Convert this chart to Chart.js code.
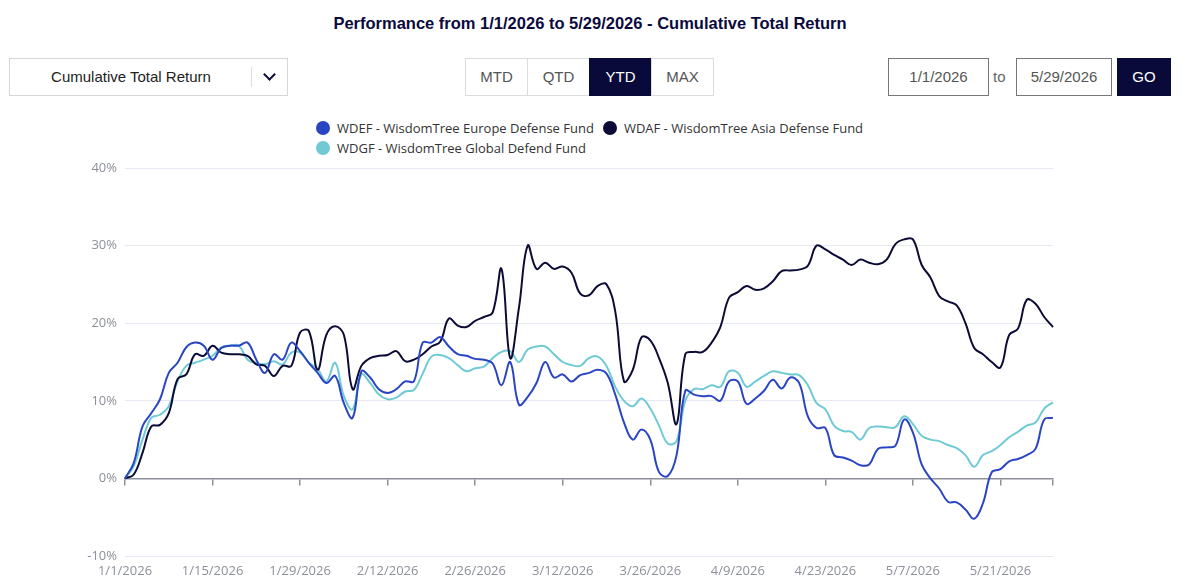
<!DOCTYPE html>
<html>
<head>
<meta charset="utf-8">
<script src="https://cdn.jsdelivr.net/npm/chart.js@4.4.1/dist/chart.umd.min.js"></script>
<style>
  body { margin: 0; background: #fff; font-family: "Liberation Sans", Arial, sans-serif; }
  #wrap { position: relative; width: 1200px; height: 584px; overflow: hidden; }
  .title { position: absolute; top: 14px; left: 0; width: 1180px; text-align: center;
    font-weight: bold; font-size: 16.5px; color: #0b0a3d; }
  .dropdown { position: absolute; left: 9px; top: 58px; width: 277px; height: 36px;
    border: 1px solid #d6d6d6; font-size: 15px; color: #222; }
  .dropdown .txt { position: absolute; left: 0; width: 242px; top: 9px; text-align: center; }
  .dropdown .sep { position: absolute; left: 241px; top: 8px; width: 1px; height: 20px; background: #ddd; }
  .dropdown .chev { position: absolute; left: 255px; top: 11px; width: 7px; height: 7px;
    border-right: 2.5px solid #0b0a3d; border-bottom: 2.5px solid #0b0a3d; transform: rotate(45deg); }
  .btns { position: absolute; left: 466px; top: 58px; display: flex; }
  .btns div { width: 61px; height: 36px; line-height: 36px; text-align: center; font-size: 15px;
    color: #555; border: 1px solid #dcdcdc; margin-left: -1px; }
  .btns div.on { background: #0a0a3a; color: #fff; border-color: #0a0a3a; }
  .date { position: absolute; top: 58px; height: 36px; line-height: 36px; text-align: center;
    font-size: 15px; color: #555; border: 1px solid #777; }
  .to { position: absolute; left: 993px; top: 58px; line-height: 38px; font-size: 15px; color: #666; }
  .go { position: absolute; left: 1117px; top: 58px; width: 54px; height: 38px; line-height: 38px;
    text-align: center; background: #0a0a3a; color: #fff; font-size: 15px; }
  #legend { position: absolute; left: 316px; top: 119px; width: 560px; display: flex; flex-wrap: wrap;
    font-family: "Open Sans", sans-serif; font-size: 13px; color: #333; row-gap: 2px; }
  #legend .item { display: flex; align-items: center; margin-right: 9px; height: 18px; }
  #legend .dot { width: 14px; height: 14px; border-radius: 50%; margin-right: 7px; }
  #chartBox { position: absolute; left: 0; top: 150px; width: 1200px; height: 434px; }
</style>
</head>
<body>
<div id="wrap">
  <div class="title">Performance from 1/1/2026 to 5/29/2026 - Cumulative Total Return</div>
  <div class="dropdown"><div class="txt">Cumulative Total Return</div><div class="sep"></div><div class="chev"></div></div>
  <div class="btns"><div>MTD</div><div>QTD</div><div class="on">YTD</div><div>MAX</div></div>
  <div class="date" style="left:888px;width:99px;">1/1/2026</div>
  <div class="to">to</div>
  <div class="date" style="left:1016px;width:94px;">5/29/2026</div>
  <div class="go">GO</div>
  <div id="legend"></div>
  <div id="chartBox"><canvas id="perfChart"></canvas></div>
</div>
<script>
// trading-day categories (weekdays 1/1/2026 - 5/29/2026)
const labels = [];
for (let d = new Date(2026, 0, 1); d <= new Date(2026, 4, 29); d.setDate(d.getDate() + 1)) {
  if (d.getDay() !== 0 && d.getDay() !== 6) {
    labels.push((d.getMonth() + 1) + "/" + d.getDate() + "/" + d.getFullYear());
  }
}

const tickLabels = ["1/1/2026", "1/15/2026", "1/29/2026", "2/12/2026", "2/26/2026", "3/12/2026",
  "3/26/2026", "4/9/2026", "4/23/2026", "5/7/2026", "5/21/2026"];

const yTicks = [-10, 0, 10, 20, 30, 40];

// cumulative total return, %
const wdef = [
  0, 2.0, 6.7, 8.4, 10.2, 13.6, 14.9, 16.9, 17.5, 17.1,
  15.3, 16.8, 17.1, 17.1, 17.5, 15.3, 13.6, 16.0, 15.3, 17.5,
  16.4, 14.9, 13.6, 12.3, 13.2, 9.7, 7.8, 13.8, 13.0, 11.5,
  11.0, 11.5, 12.5, 12.5, 17.5, 17.5, 18.2, 17.0, 16.0, 15.8,
  15.4, 15.3, 14.8, 12.0, 15.0, 9.5, 10.5, 12.3, 15.0, 13.0,
  13.4, 12.5, 13.3, 13.6, 14.0, 13.5, 10.8, 7.2, 5.0, 6.3,
  5.0, 0.8, 0.3, 3.0, 11.3, 10.8, 10.6, 10.6, 10.0, 12.5,
  12.5, 9.6, 10.3, 11.3, 12.7, 11.6, 13.0, 12.3, 8.0, 6.5,
  6.5, 3.0, 2.7, 2.3, 1.7, 1.8, 3.8, 4.0, 4.2, 7.6,
  5.9, 1.8, 0.0, -1.3, -3.0, -3.1, -4.0, -5.2, -3.2, 0.8,
  1.2, 2.2, 2.5, 3.0, 3.8, 7.6, 7.8
];
const wdaf = [
  0, 0.5, 3.3, 6.7, 6.9, 8.4, 12.8, 13.4, 16.0, 15.8,
  17.1, 16.2, 16.0, 16.0, 15.8, 14.7, 14.5, 13.2, 14.5, 14.5,
  18.8, 19.0, 14.0, 18.5, 19.6, 18.5, 11.5, 14.5, 15.5, 15.8,
  15.9, 16.4, 15.1, 15.3, 16.0, 17.0, 17.6, 20.6, 19.7, 19.5,
  20.3, 20.8, 21.4, 27.0, 15.5, 22.0, 30.0, 27.0, 27.8, 27.0,
  27.3, 26.5, 23.8, 23.6, 24.8, 25.0, 21.5, 12.5, 14.0, 18.2,
  17.8, 15.5, 12.3, 7.0, 16.0, 16.3, 16.3, 17.5, 19.5, 23.3,
  24.0, 24.8, 24.3, 24.5, 25.4, 26.7, 26.8, 26.9, 27.4, 30.0,
  29.5, 28.8, 28.2, 27.5, 28.2, 27.8, 27.6, 28.2, 30.2, 30.8,
  30.8, 27.5, 25.9, 23.5, 22.8, 22.3, 20.0, 16.8, 16.0, 15.0,
  14.3, 18.5, 19.3, 23.0, 22.5, 20.8, 19.5
];
const wdgf = [
  0, 1.6, 5.0, 7.8, 8.2, 9.3, 12.5, 14.5, 14.9, 15.3,
  15.8, 16.9, 17.1, 17.1, 15.3, 14.9, 14.7, 15.1, 14.7, 16.2,
  16.2, 14.9, 14.1, 12.5, 14.9, 10.6, 8.9, 13.4, 12.3, 10.8,
  10.2, 10.4, 11.2, 11.4, 13.5, 15.7, 15.9, 15.5, 14.6, 13.8,
  14.2, 14.4, 15.5, 16.3, 16.4, 15.0, 16.6, 17.0, 17.0, 16.0,
  15.0, 14.6, 14.5, 15.5, 15.7, 14.5, 11.8, 10.0, 9.3, 10.3,
  9.0, 6.8, 4.5, 4.8, 10.0, 11.5, 11.5, 12.0, 11.8, 13.8,
  13.6, 11.8, 12.5, 13.2, 13.8, 13.6, 13.4, 13.3, 12.0, 9.7,
  8.9, 6.8, 6.1, 6.0, 5.0, 6.5, 6.7, 6.6, 6.6, 8.0,
  7.0, 5.5, 5.0, 4.8, 4.3, 3.9, 3.0, 1.5, 3.0, 3.5,
  4.3, 5.3, 6.0, 6.8, 7.2, 9.0, 9.8
];

const axisGrey = "#8d9099";
const isTick = (i) => tickLabels.includes(labels[i]) || i === labels.length - 1;

const chart = new Chart(document.getElementById("perfChart"), {
  type: "line",
  data: {
    labels: labels,
    datasets: [
      { label: "WDEF - WisdomTree Europe Defense Fund", data: wdef, borderColor: "#2a45c4", backgroundColor: "#2a45c4" },
      { label: "WDAF - WisdomTree Asia Defense Fund", data: wdaf, borderColor: "#0c0b36", backgroundColor: "#0c0b36" },
      { label: "WDGF - WisdomTree Global Defend Fund", data: wdgf, borderColor: "#6fcad5", backgroundColor: "#6fcad5" }
    ]
  },
  options: {
    responsive: true,
    maintainAspectRatio: false,
    animation: false,
    layout: { padding: { top: 18, right: 147, left: 0, bottom: 0 } },
    elements: {
      line: { borderWidth: 2, tension: 0.4 },
      point: { radius: 0, hoverRadius: 3 }
    },
    interaction: { mode: "index", intersect: false },
    plugins: { legend: { display: false } },
    scales: {
      x: {
        type: "category",
        position: "bottom",
        grid: { display: false, drawTicks: false },
        border: { display: false },
        afterFit: (scale) => { scale.height = 28; },
        ticks: {
          autoSkip: false,
          maxRotation: 0,
          padding: 7,
          color: axisGrey,
          font: { family: "'Open Sans', sans-serif", size: 13 },
          callback: (val, i) => tickLabels.includes(labels[i]) ? labels[i] : ""
        }
      },
      xZero: {
        type: "category",
        axis: "x",
        position: { y: 0 },
        ticks: { display: false, autoSkip: false },
        grid: {
          drawOnChartArea: false,
          drawTicks: true,
          tickLength: 6,
          lineWidth: 1.5,
          color: (ctx) => isTick(ctx.index) ? axisGrey : "rgba(0,0,0,0)"
        },
        border: { display: true, color: axisGrey, width: 1.5 }
      },
      y: {
        min: yTicks[0],
        max: yTicks[yTicks.length - 1],
        afterFit: (scale) => { scale.width = 125; },
        afterBuildTicks: (scale) => { scale.ticks = yTicks.map(v => ({ value: v })); },
        grid: { color: "#e6e9f2", drawTicks: false },
        border: { display: false },
        ticks: {
          padding: 8,
          color: axisGrey,
          font: { family: "'Open Sans', sans-serif", size: 13 },
          callback: (v) => v + "%"
        }
      }
    }
  }
});

// html legend, two rows like the original page
const legendEl = document.getElementById("legend");
chart.data.datasets.forEach(ds => {
  const item = document.createElement("div");
  item.className = "item";
  item.innerHTML = '<span class="dot" style="background:' + ds.borderColor + '"></span><span>' + ds.label + "</span>";
  legendEl.appendChild(item);
});
</script>
</body>
</html>
